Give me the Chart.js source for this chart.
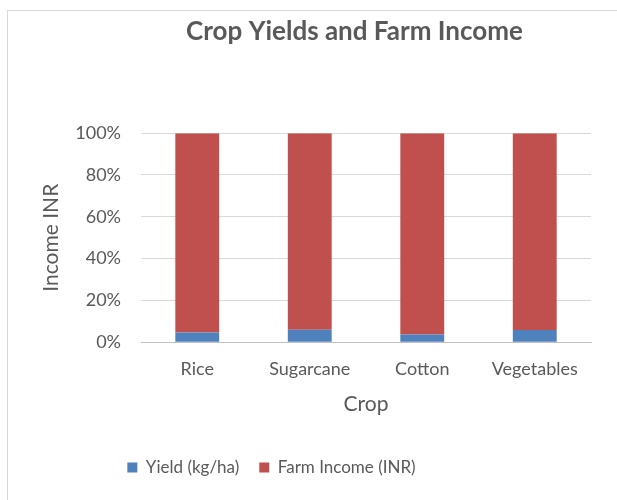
<!DOCTYPE html>
<html>
<head>
<meta charset="utf-8">
<script src="https://cdn.jsdelivr.net/npm/chart.js@4"></script>
<style>
  html, body { margin: 0; padding: 0; background: #fff; }
  #frame { position: absolute; left: 7px; top: 10px; width: 620px; height: 500px;
           border-left: 1px solid #d9d9d9; border-top: 1px solid #d9d9d9; }
  #wrap { position: absolute; left: 0; top: 0; width: 617px; height: 500px; }
</style>
</head>
<body>
<div id="frame"></div>
<div id="wrap"><canvas id="myChart"></canvas></div>
<script>
"use strict";

var crops = ["Rice", "Sugarcane", "Cotton", "Vegetables"];
// share of each column, in percent (100% stacked)
var yieldShare = [4.6, 5.9, 3.7, 5.8];
var incomeShare = [95.4, 94.1, 96.3, 94.2];
var yTicks = [0, 20, 40, 60, 80, 100];

var grey = '#595959';
var font = 'Lato, "Open Sans", sans-serif';

// nudge title and legend sideways, like the Excel layout
var shiftBoxes = {
    id: 'shiftBoxes',
    afterLayout: function (chart) {
        var t = chart.titleBlock, l = chart.legend;
        if (t) { t.left += 55; t.right += 55; }
        if (l) { l.left -= 28; l.right -= 28; }
    }
};

var ctx = document.getElementById('myChart').getContext('2d');

var myChart = new Chart(ctx, {
    type: 'bar',
    data: {
        labels: crops,
        datasets: [{
            label: 'Yield (kg/ha)',
            data: yieldShare,
            backgroundColor: '#4f81bd'
        }, {
            label: 'Farm Income (INR)',
            data: incomeShare,
            backgroundColor: '#c0504d'
        }]
    },
    plugins: [shiftBoxes],
    options: {
        responsive: true,
        maintainAspectRatio: false,
        animation: false,
        layout: { padding: { left: 8, right: 26, top: 0, bottom: 14 } },
        datasets: { bar: { barPercentage: 0.39, categoryPercentage: 1 } },
        plugins: {
            title: {
                display: true,
                text: 'Crop Yields and Farm Income',
                color: grey,
                font: { family: font, size: 26, weight: 'bold' },
                padding: { top: 16, bottom: 86 }
            },
            legend: {
                display: true,
                position: 'bottom',
                labels: {
                    color: grey,
                    font: { family: font, size: 17 },
                    boxWidth: 10,
                    boxHeight: 10,
                    padding: 20
                }
            },
            tooltip: { enabled: false }
        },
        scales: {
            x: {
                stacked: true,
                grid: { display: false },
                border: { display: true, color: '#bfbfbf' },
                ticks: { color: grey, font: { family: font, size: 18 }, padding: 8 },
                title: {
                    display: true, text: 'Crop', color: grey,
                    font: { family: font, size: 21 }, padding: { top: 4, bottom: 22 }
                }
            },
            y: {
                stacked: true,
                min: 0,
                max: 100,
                afterBuildTicks: function (scale) {
                    scale.ticks = yTicks.map(function (v) { return { value: v }; });
                },
                afterFit: function (scale) { scale.width = 141 - 8; },
                grid: { color: '#d9d9d9', drawTicks: false },
                border: { display: false },
                ticks: {
                    color: grey,
                    font: { family: font, size: 18 },
                    padding: 20,
                    callback: function (v) { return v + '%'; }
                },
                title: {
                    display: true, text: 'Income INR', color: grey,
                    font: { family: font, size: 21 }, padding: { top: 31, bottom: 0 }
                }
            }
        }
    }
});
</script>
</body>
</html>
